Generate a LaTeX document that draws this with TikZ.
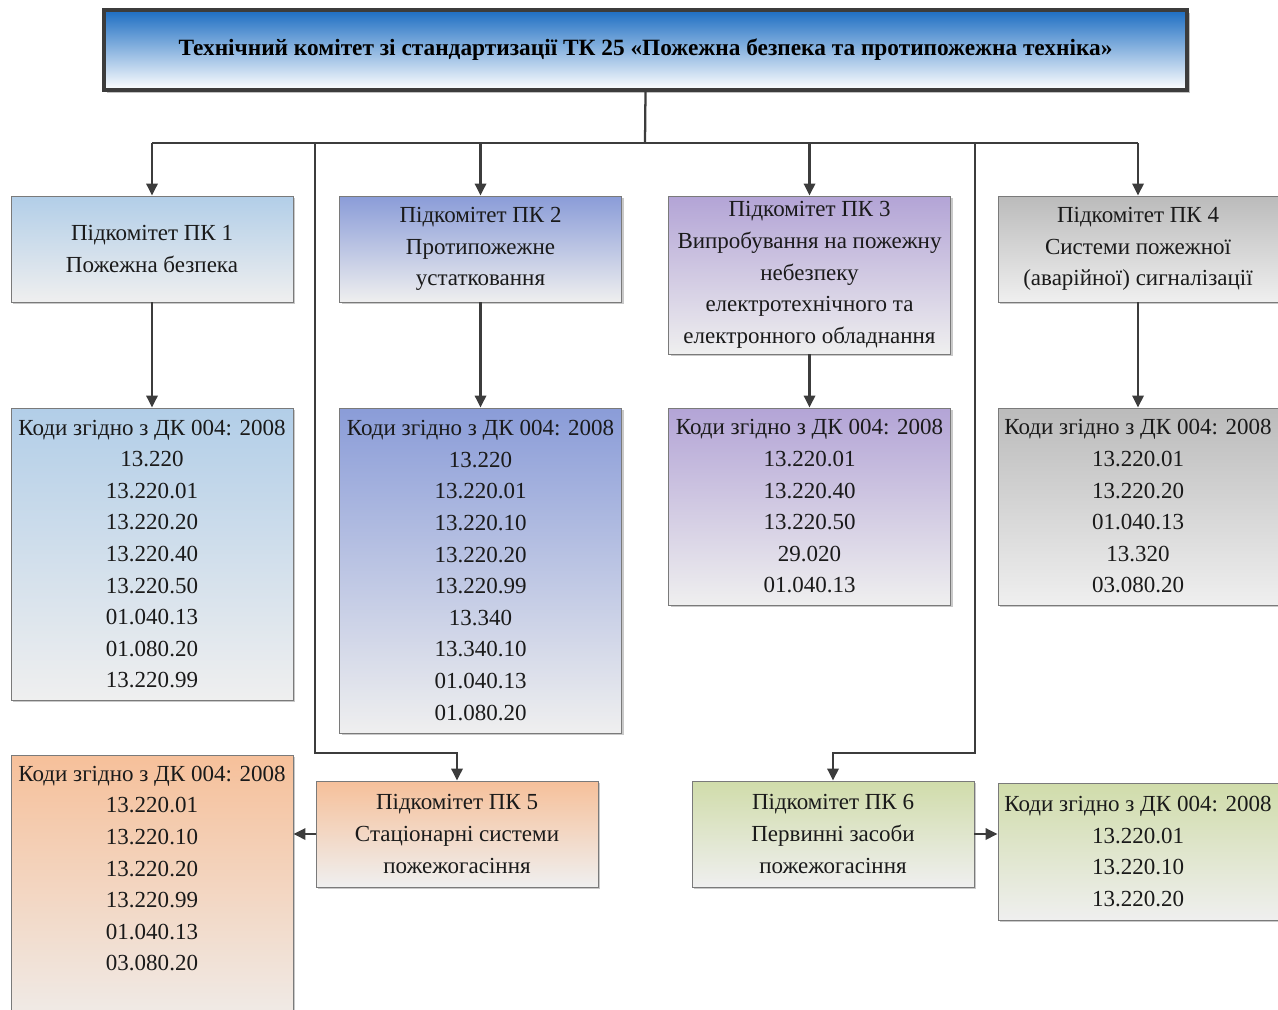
\documentclass[tikz,border=0pt]{standalone}
\usepackage{fontspec}
\setmainfont{Liberation Serif}
\usetikzlibrary{arrows.meta,shadows}
\definecolor{lc}{HTML}{3C3C3C}
\definecolor{bc}{HTML}{7A7A7A}
\definecolor{tx}{HTML}{1A1A1A}
\definecolor{cA}{HTML}{B2CEE8}
\definecolor{cB}{HTML}{8A9CD8}
\definecolor{cC}{HTML}{B3A4D6}
\definecolor{cD}{HTML}{BBBBBB}
\definecolor{cE}{HTML}{F6C09A}
\definecolor{cF}{HTML}{D0DCAA}
\definecolor{cEnd}{HTML}{EFEFEF}
\definecolor{topc}{HTML}{1C6DC2}
\tikzset{
  box/.style={draw=bc, line width=0.7pt, inner sep=0pt, align=center, text=tx,
    font=\fontsize{17.25pt}{23.7pt}\selectfont,
    drop shadow={shadow xshift=1.5pt, shadow yshift=-1.5pt, opacity=0.35, fill=black!60}},
  shA/.style={top color=cA, bottom color=cEnd},
  shB/.style={top color=cB, bottom color=cEnd},
  shC/.style={top color=cC, bottom color=cEnd},
  shD/.style={top color=cD, bottom color=cEnd},
  shE/.style={top color=cE, bottom color=cEnd},
  shF/.style={top color=cF, bottom color=cEnd},
  wbox/.style={minimum width=211.5pt},
  line/.style={draw=lc, line width=1.7pt},
  arr/.style={line, -{Triangle[length=9pt,width=8.5pt]}},
}
\begin{document}
\begin{tikzpicture}[x=0.75pt,y=-0.75pt]
\useasboundingbox[fill=white] (0,0) rectangle (1278,1010);
% title
\node[draw=lc, line width=2.4pt, top color=topc, bottom color=white, minimum width=812.25pt, minimum height=60pt, inner sep=0pt, text=black,
  font=\fontsize{17.5pt}{21pt}\selectfont\bfseries,
  drop shadow={shadow xshift=2pt, shadow yshift=-2pt, opacity=0.4, fill=black!60}]
  (top) at (645.5,50) {Технічний комітет зі стандартизації ТК 25 «Пожежна безпека та протипожежна техніка»};
% subcommittees
\node[box, shA, wbox, minimum height=79.5pt] (pk1) at (152,249) {Підкомітет ПК 1\\Пожежна безпека};
\node[box, shB, wbox, minimum height=79.5pt] (pk2) at (480.5,249) {Підкомітет ПК 2\\Протипожежне\\устатковання};
\node[box, shC, wbox, minimum height=118.5pt] (pk3) at (809.5,275) {Підкомітет ПК 3\\Випробування на пожежну\\небезпеку\\електротехнічного та\\електронного обладнання};
\node[box, shD, minimum width=210pt, minimum height=79.5pt] (pk4) at (1138,249) {Підкомітет ПК 4\\Системи пожежної\\(аварійної) сигналізації};
\node[box, shE, wbox, minimum height=79.5pt] (pk5) at (457,834) {Підкомітет ПК 5\\Стаціонарні системи\\пожежогасіння};
\node[box, shF, wbox, minimum height=79.5pt] (pk6) at (833,834) {Підкомітет ПК 6\\Первинні засоби\\пожежогасіння};
% code boxes
\node[box, shA, wbox, minimum height=219pt] (c1) at (152,554) {Коди згідно з ДК 004: 2008\\13.220\\13.220.01\\13.220.20\\13.220.40\\13.220.50\\01.040.13\\01.080.20\\13.220.99};
\node[box, shB, wbox, minimum height=243.75pt] (c2) at (480.5,570.5) {Коди згідно з ДК 004: 2008\\13.220\\13.220.01\\13.220.10\\13.220.20\\13.220.99\\13.340\\13.340.10\\01.040.13\\01.080.20};
\node[box, shC, wbox, minimum height=147.75pt] (c3) at (809.5,506.5) {Коди згідно з ДК 004: 2008\\13.220.01\\13.220.40\\13.220.50\\29.020\\01.040.13};
\node[box, shD, minimum width=210pt, minimum height=147.75pt] (c4) at (1138,506.5) {Коди згідно з ДК 004: 2008\\13.220.01\\13.220.20\\01.040.13\\13.320\\03.080.20};
\node[box, shE, wbox, minimum height=217.5pt] (c5) at (152,900) {Коди згідно з ДК 004: 2008\\13.220.01\\13.220.10\\13.220.20\\13.220.99\\01.040.13\\03.080.20\\~\\~};
\node[box, shF, minimum width=210pt, minimum height=102.75pt] (c6) at (1138,851.5) {Коди згідно з ДК 004: 2008\\13.220.01\\13.220.10\\13.220.20};
% connectors
\coordinate (bus) at (645,143);
\coordinate (j5) at (315,143);
\coordinate (k5) at (315,753);
\coordinate (j6) at (975,143);
\coordinate (k6) at (975,753);
\draw[line] (top.south) -- (bus);
\draw[line] (pk1.north |- bus) -- (pk4.north |- bus);
\draw[arr] (pk1.north |- bus) -- (pk1.north);
\draw[arr] (pk2.north |- bus) -- (pk2.north);
\draw[arr] (pk3.north |- bus) -- (pk3.north);
\draw[arr] (pk4.north |- bus) -- (pk4.north);
\draw[arr] (j5) -- (k5) -| (pk5.north);
\draw[arr] (j6) -- (k6) -| (pk6.north);
\draw[arr] (pk1.south) -- (c1.north);
\draw[arr] (pk2.south) -- (c2.north);
\draw[arr] (pk3.south) -- (c3.north);
\draw[arr] (pk4.south) -- (c4.north);
\draw[arr] (pk5.west) -- (pk5.west -| c5.east);
\draw[arr] (pk6.east) -- (pk6.east -| c6.west);
\end{tikzpicture}
\end{document}
